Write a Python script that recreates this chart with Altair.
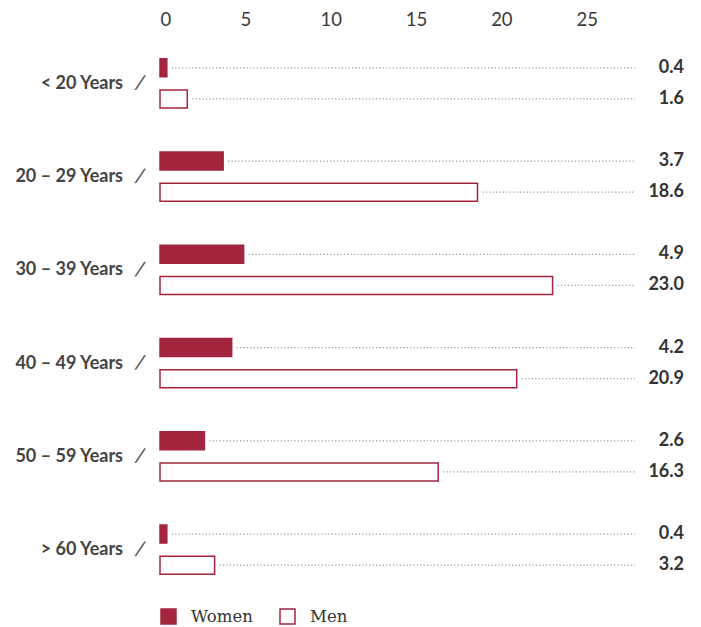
import altair as alt
import pandas as pd

groups = ["< 20 Years", "20 – 29 Years", "30 – 39 Years", "40 – 49 Years", "50 – 59 Years", "> 60 Years"]
women = [0.4, 3.7, 4.9, 4.2, 2.6, 0.4]
men = [1.6, 18.6, 23.0, 20.9, 16.3, 3.2]
series = ["Women", "Men"]
tick_values = [0, 5, 10, 15, 20, 25]

CRIMSON = "#a3243e"

rows = []
slot_domain = []
for i, g in enumerate(groups):
    for s, vals in zip(series, [women, men]):
        key = f"{g}|{s}"
        slot_domain.append(key)
        rows.append({"group": g, "sex": s, "value": vals[i], "slot": key})
    if i < len(groups) - 1:
        slot_domain.append(f"{g}|gap")
df = pd.DataFrame(rows)

W, H = 524, 553

yenc = alt.Y("slot:N", sort=None,
             scale=alt.Scale(domain=slot_domain, paddingInner=0.42, paddingOuter=0.6045),
             axis=None)
xscale = alt.Scale(domain=[0, 30.7], nice=False, zero=True)

base = alt.Chart(df)

leaders = base.mark_rule(color="#9a9a9a", strokeWidth=1.2, strokeDash=[1.2, 2.2], xOffset=5).encode(
    x=alt.X("value:Q", scale=xscale,
            axis=alt.Axis(orient="top", values=tick_values, domain=False, ticks=False, grid=False,
                          labelFont="Lato", labelFontSize=18.5, labelColor="#3a3a3a",
                          labelPadding=11, title=None)),
    x2=alt.value(475),
    y=yenc,
)

bars = base.mark_bar(stroke=CRIMSON, strokeWidth=1.5).encode(
    x=alt.X("value:Q", scale=xscale),
    y=yenc,
    fill=alt.Fill("sex:N",
                  scale=alt.Scale(domain=series, range=[CRIMSON, "#ffffff"]),
                  legend=alt.Legend(title=None, orient="none", legendX=0, legendY=568,
                                    direction="horizontal", symbolType="square", symbolSize=225,
                                    symbolStrokeColor=CRIMSON, symbolStrokeWidth=1.5,
                                    labelFont="DejaVu Serif", labelFontSize=16.5, labelColor="#333333",
                                    labelOffset=14, columnPadding=24, padding=0)),
)

values_txt = base.mark_text(align="right", baseline="middle", font="Lato", fontSize=18,
                            fontWeight="bold", color="#333333").encode(
    x=alt.value(W),
    y=yenc,
    text=alt.Text("value:Q", format=".1f"),
)

labels = base.transform_filter(alt.datum.sex == "Women").mark_text(
    align="right", baseline="middle", font="Lato", fontSize=18, fontWeight="bold",
    color="#444444", yOffset=16).encode(
    x=alt.value(-37),
    y=yenc,
    text="group:N",
)

slashes = base.transform_filter(alt.datum.sex == "Women").mark_text(
    align="center", baseline="middle", font="Lato", fontSize=21, fontWeight="normal",
    color="#555555", yOffset=16, angle=12).encode(
    x=alt.value(-20),
    y=yenc,
    text=alt.value("/"),
)

chart = alt.layer(leaders, bars, values_txt, labels, slashes).properties(
    width=W, height=H,
    autosize=alt.AutoSizeParams(type="none"),
    padding={"left": 152, "top": 32, "right": 8, "bottom": 32},
).configure(background="white").configure_view(stroke=None, strokeWidth=0)

chart.save("out.html", embed_options={"renderer": "svg", "actions": False})
